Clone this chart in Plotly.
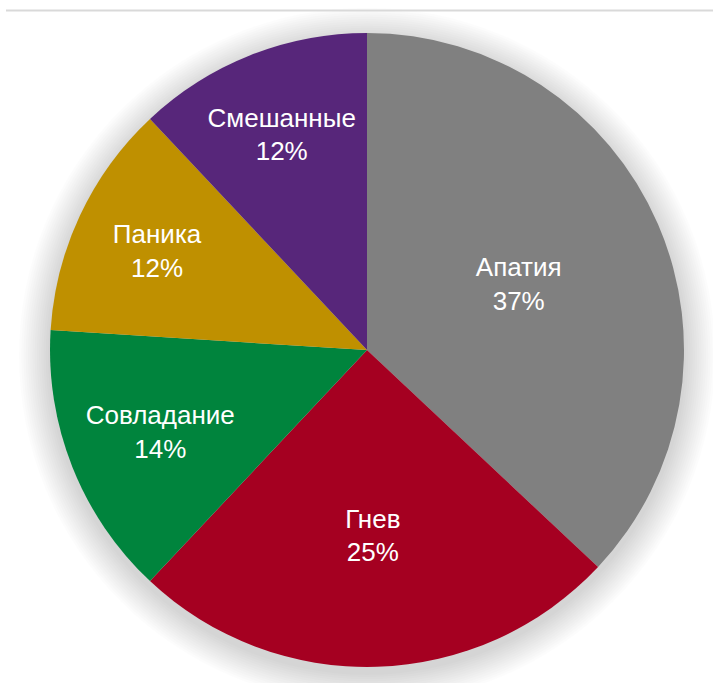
import plotly.graph_objects as go

labels = ["Апатия", "Гнев", "Совладание", "Паника", "Смешанные"]
values = [37, 25, 14, 12, 12]
colors = ["#808080", "#A50021", "#00843D", "#BF9000", "#57267A"]

fig = go.Figure()
fig.add_trace(go.Pie(
    labels=labels,
    values=values,
    sort=False,
    direction="clockwise",
    rotation=0,
    marker=dict(colors=colors, line=dict(width=0)),
    texttemplate="%{label}<br>%{percent:.0%}",
    textposition="inside",
    insidetextorientation="horizontal",
    textfont=dict(family="Liberation Sans Narrow, Arial Narrow, Liberation Sans, Arial", size=26, color="white"),
    hoverinfo="label+percent",
    showlegend=False,
    automargin=False,
))

shapes = []
# soft drop shadow behind pie
for k in range(14, 0, -1):
    r = 0.5 + k * 0.0035
    cy = 0.5 - 0.009
    shapes.append(dict(type="circle", xref="paper", yref="paper",
                       x0=0.5 - r, x1=0.5 + r, y0=cy - r, y1=cy + r,
                       fillcolor="rgba(0,0,0,0.012)", line=dict(width=0), layer="below"))
# top rule line
shapes.append(dict(type="line", xref="paper", yref="paper",
                   x0=-0.0694, x1=1.05, y0=1.0355, y1=1.0355,
                   line=dict(color="#D9D9D9", width=2)))

fig.update_layout(
    width=713, height=683,
    margin=dict(l=50, r=29, t=33, b=16),
    paper_bgcolor="white", plot_bgcolor="white",
    shapes=shapes,
)

fig.write_html("out.html")
